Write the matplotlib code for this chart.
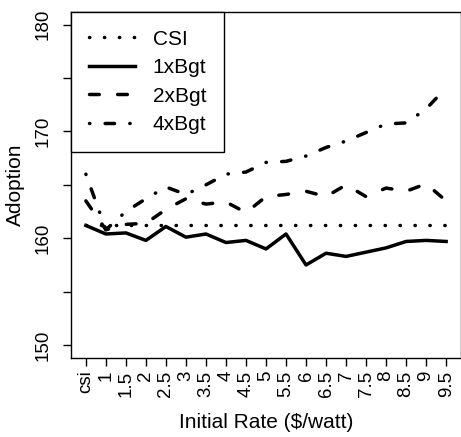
import matplotlib.pyplot as plt

plt.rcParams['font.family'] = ['Liberation Sans', 'DejaVu Sans']

rates = ['csi', '1', '1.5', '2', '2.5', '3', '3.5', '4', '4.5', '5',
         '5.5', '6', '6.5', '7', '7.5', '8', '8.5', '9', '9.5']

csi = [161.2, 161.2, 161.2, 161.2, 161.2, 161.2, 161.2, 161.2, 161.2, 161.2,
       161.2, 161.2, 161.2, 161.2, 161.2, 161.2, 161.2, 161.2, 161.2]
bgt1 = [161.2, 160.4, 160.5, 159.8, 161.1, 160.1, 160.4, 159.6, 159.8, 159.0,
        160.4, 157.5, 158.6, 158.3, 158.7, 159.1, 159.7, 159.8, 159.7]
bgt2 = [163.5, 160.8, 161.3, 161.4, 162.7, 163.7, 163.2, 163.4, 162.4, 163.9,
        164.1, 164.4, 163.9, 165.0, 163.9, 164.7, 164.4, 165.1, 163.5]
bgt4 = [166.0, 160.8, 162.5, 163.7, 164.8, 164.1, 165.0, 166.0, 166.2, 167.1,
        167.2, 167.7, 168.5, 169.1, 169.9, 170.7, 170.8, 172.1, 174.1]

yticks = [150, 155, 160, 165, 170, 175, 180]
ylabels = ['150', '', '160', '', '170', '', '180']

xx = list(range(1, len(rates) + 1))

fig = plt.figure(figsize=(4.61, 4.37), dpi=100)
ax = fig.add_axes([0.155, 0.181, 0.844, 0.792])

lw = 2.5
ax.plot(xx, csi, color='black', lw=lw, linestyle=(0, (0.1, 4.2)),
        dash_capstyle='round', label='CSI')
ax.plot(xx, bgt1, color='black', lw=lw, solid_joinstyle='round',
        label='1xBgt')
ax.plot(xx, bgt2, color='black', lw=lw, linestyle=(0, (2.8, 5.3)),
        dash_capstyle='round', label='2xBgt')
ax.plot(xx, bgt4, color='black', lw=lw, linestyle=(0, (0.1, 4.4, 2.7, 4.4)),
        dash_capstyle='round', label='4xBgt')

ax.set_xlim(0.28, 19.72)
ax.set_ylim(148.8, 181.2)
ax.set_xticks(xx)
ax.set_xticklabels(rates, rotation=90, fontsize=13.5)
ax.set_yticks(yticks)
ax.set_yticklabels(ylabels, rotation=90, va='center', fontsize=13.5)
ax.tick_params(direction='out', length=6, width=1, pad=3)
ax.tick_params(axis='y', pad=8)

for s in ax.spines.values():
    s.set_linewidth(1)

ax.set_xlabel('Initial Rate ($/watt)', fontsize=15, labelpad=12)
ax.set_ylabel('Adoption', fontsize=15, labelpad=7)

leg = ax.legend(loc='upper left', fontsize=15, borderaxespad=0,
                fancybox=False, edgecolor='black', framealpha=1,
                handlelength=2.2, handletextpad=0.85, borderpad=0.85,
                labelspacing=0.46)
leg.get_frame().set_linewidth(1)

fig.savefig('out.png', dpi=100)
